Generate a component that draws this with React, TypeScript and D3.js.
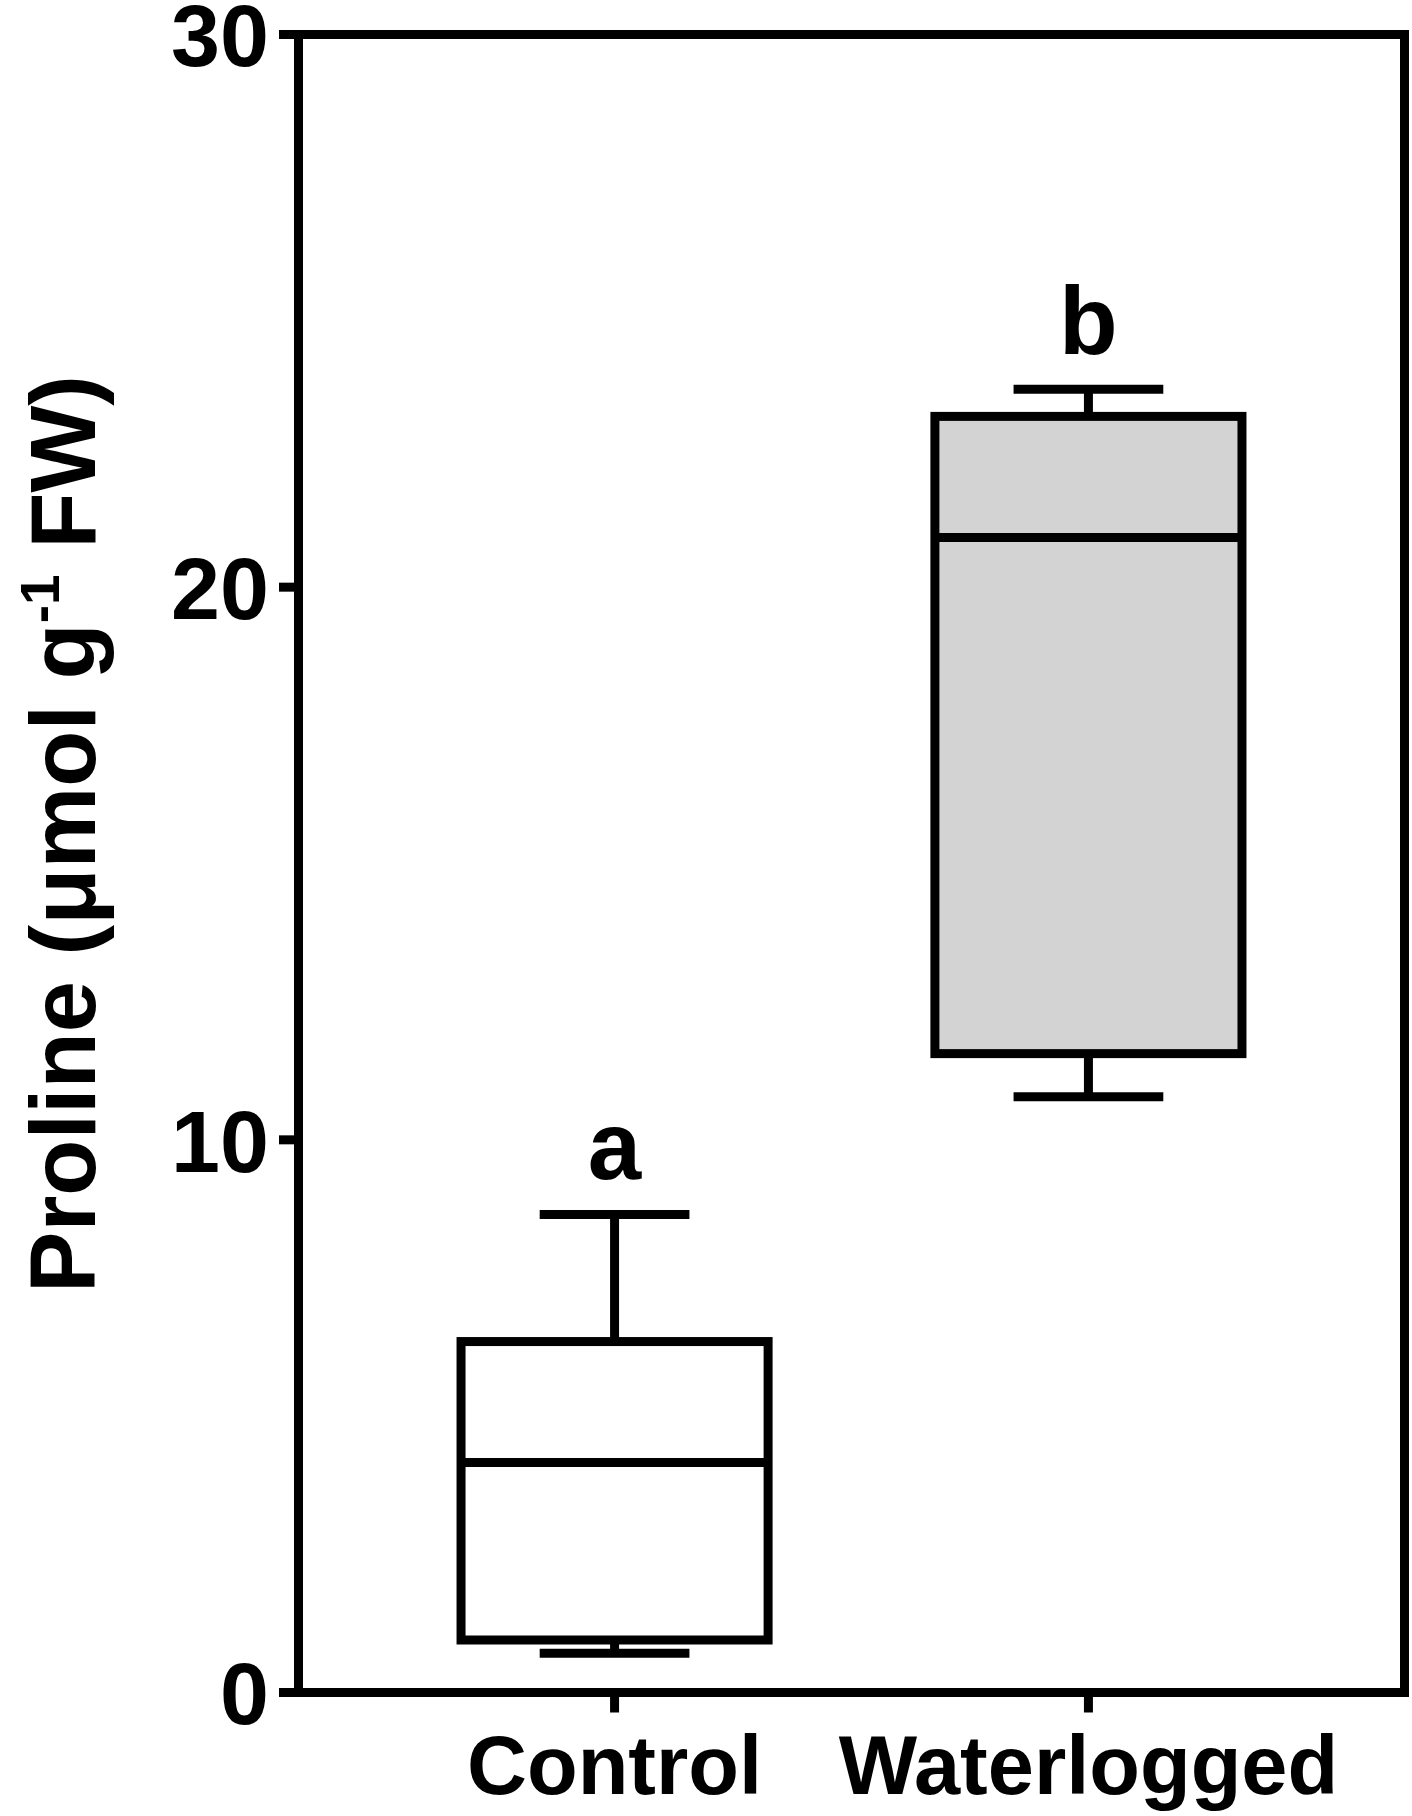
import React from 'react';
import * as d3 from 'd3';

const categories = ['Control', 'Waterlogged'];
const whiskerLow = [0.71, 10.78];
const q1 = [0.95, 11.56];
const median = [4.16, 20.9];
const q3 = [6.35, 23.09];
const whiskerHigh = [8.65, 23.58];
const letters = ['a', 'b'];
const fills = ['#ffffff', '#d3d3d3'];
const yTicks = [0, 10, 20, 30];

const FONT = '"Liberation Sans", Arial, Helvetica, sans-serif';

export default function App() {
  const W = 1412;
  const H = 1816;
  const left = 298.5;
  const right = 1404.5;
  const top = 34.5;
  const bottom = 1692.5;
  const sw = 9;

  const y = d3.scaleLinear().domain([0, 30]).range([bottom, top]);
  const x = d3.scalePoint<string>().domain(categories).range([left, right]).padding(0.667);
  const step = x.step();
  const boxW = step * 0.648;
  const capW = step * 0.316;

  return (
    <svg
      width={W}
      height={H}
      style={{ position: 'absolute', left: 0, top: 0, background: '#fff' }}
      fontFamily={FONT}
      fontWeight="bold"
    >
      {/* boxes */}
      {categories.map((c, i) => {
        const cx = x(c) as number;
        return (
          <g key={c}>
            <line x1={cx} x2={cx} y1={y(q3[i])} y2={y(whiskerHigh[i])} stroke="#000" strokeWidth={sw} />
            <line x1={cx} x2={cx} y1={y(q1[i])} y2={y(whiskerLow[i])} stroke="#000" strokeWidth={sw} />
            <line x1={cx - capW / 2} x2={cx + capW / 2} y1={y(whiskerHigh[i])} y2={y(whiskerHigh[i])} stroke="#000" strokeWidth={sw} />
            <line x1={cx - capW / 2} x2={cx + capW / 2} y1={y(whiskerLow[i])} y2={y(whiskerLow[i])} stroke="#000" strokeWidth={sw} />
            <rect
              x={cx - boxW / 2}
              y={y(q3[i])}
              width={boxW}
              height={y(q1[i]) - y(q3[i])}
              fill={fills[i]}
              stroke="#000"
              strokeWidth={sw}
            />
            <line x1={cx - boxW / 2} x2={cx + boxW / 2} y1={y(median[i])} y2={y(median[i])} stroke="#000" strokeWidth={sw} />
            <text x={cx} y={y(whiskerHigh[i]) - 35} textAnchor="middle" fontSize={96}>
              {letters[i]}
            </text>
          </g>
        );
      })}

      {/* frame */}
      <rect x={left} y={top} width={right - left} height={bottom - top} fill="none" stroke="#000" strokeWidth={sw} />

      {/* y ticks */}
      {yTicks.map((t) => (
        <g key={t}>
          <line x1={left - 19.5} x2={left} y1={y(t)} y2={y(t)} stroke="#000" strokeWidth={sw} />
          <text x={269} y={y(t)} dy="0.36em" textAnchor="end" fontSize={88}>
            {t}
          </text>
        </g>
      ))}

      {/* x ticks */}
      {categories.map((c) => (
        <g key={c}>
          <line x1={x(c) as number} x2={x(c) as number} y1={bottom} y2={bottom + 20} stroke="#000" strokeWidth={sw} />
          <text x={x(c) as number} y={1794} textAnchor="middle" fontSize={83}>
            {c}
          </text>
        </g>
      ))}

      {/* y label */}
      <text transform="translate(95, 834) rotate(-90)" textAnchor="middle" fontSize={92}>
        Proline (μmol g
        <tspan fontSize={55} dy={-36}>-1</tspan>
        <tspan dy={36}> FW)</tspan>
      </text>
    </svg>
  );
}
